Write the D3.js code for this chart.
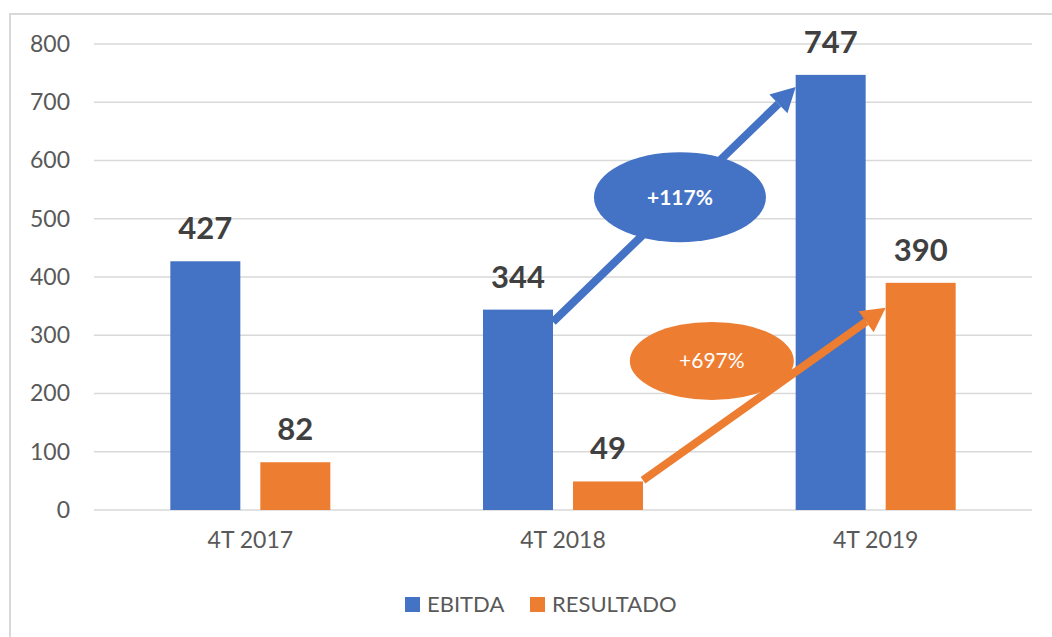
<!DOCTYPE html>
<html>
<head>
<meta charset="utf-8">
<script src="https://cdn.jsdelivr.net/npm/d3@7"></script>
<style>
  body { margin: 0; background: #fff; }
  text { font-family: Lato, "Open Sans", sans-serif; }
</style>
</head>
<body>
<div id="chart"></div>
<script>
// datos del gráfico
const categories = ["4T 2017", "4T 2018", "4T 2019"];
const series = ["EBITDA", "RESULTADO"];
const ebitda = [427, 344, 747];
const resultado = [82, 49, 390];
const yTicks = [0, 100, 200, 300, 400, 500, 600, 700, 800];

// flechas de variación (desde / hasta, en valores del gráfico)
const arrowFrom = [["4T 2018", "EBITDA", 323], ["4T 2018", "RESULTADO", 51]];
const arrowTo = [["4T 2019", "EBITDA", 726], ["4T 2019", "RESULTADO", 347]];
const changeLabels = ["+117%", "+697%"];
const labelPos = [[1.874, 537], [1.976, 256]]; // posición de la elipse (índice de categoría, valor)

const colors = { EBITDA: "#4472C4", RESULTADO: "#ED7D31" };

const width = 1052, height = 637;
const margin = { top: 44, right: 20, bottom: 127, left: 94 };

const svg = d3.select("#chart").append("svg")
    .attr("width", width)
    .attr("height", height);

// marco
svg.append("path")
    .attr("d", `M10,${height} L10,14 L${width},14`)
    .attr("fill", "none")
    .attr("stroke", "#d9d9d9")
    .attr("stroke-width", 2);

const x0 = d3.scaleBand()
    .domain(categories)
    .range([margin.left, 1032])
    .padding(0);

const x1 = d3.scaleBand()
    .domain(series)
    .range([x0.bandwidth() / 2 - 80, x0.bandwidth() / 2 + 80])
    .paddingInner(2 / 9);

const y = d3.scaleLinear()
    .domain([0, 800])
    .range([510, margin.top]);

// líneas de cuadrícula
svg.append("g")
    .selectAll("line")
    .data(yTicks)
    .enter().append("line")
    .attr("x1", margin.left)
    .attr("x2", 1032)
    .attr("y1", d => y(d))
    .attr("y2", d => y(d))
    .attr("stroke", "#d9d9d9")
    .attr("stroke-width", 1.5);

// eje y
const yAxis = svg.append("g")
    .attr("transform", "translate(70,0)")
    .call(d3.axisLeft(y).tickValues(yTicks).tickSize(0).tickPadding(0));
yAxis.select(".domain").remove();
yAxis.selectAll("text")
    .attr("fill", "#595959")
    .style("font-size", "23px")
    .style("font-family", "Lato, sans-serif");

// eje x
const xAxis = svg.append("g")
    .attr("transform", "translate(0,532)")
    .call(d3.axisBottom(x0).tickSize(0).tickPadding(0));
xAxis.select(".domain").remove();
xAxis.selectAll("text")
    .attr("fill", "#595959")
    .style("font-size", "23px")
    .style("font-family", "Lato, sans-serif");

// barras
const rows = categories.map((c, i) => ({ cat: c, EBITDA: ebitda[i], RESULTADO: resultado[i] }));

const groups = svg.selectAll(".group")
    .data(rows)
    .enter().append("g")
    .attr("class", "group")
    .attr("transform", d => `translate(${x0(d.cat)},0)`);

groups.selectAll("rect")
    .data(d => series.map(s => ({ key: s, value: d[s] })))
    .enter().append("rect")
    .attr("x", d => x1(d.key))
    .attr("y", d => y(d.value))
    .attr("width", x1.bandwidth())
    .attr("height", d => y(0) - y(d.value))
    .attr("fill", d => colors[d.key]);

groups.selectAll(".value")
    .data(d => series.map(s => ({ key: s, value: d[s] })))
    .enter().append("text")
    .attr("class", "value")
    .attr("x", d => x1(d.key) + x1.bandwidth() / 2)
    .attr("y", d => y(d.value) - 22)
    .attr("text-anchor", "middle")
    .attr("fill", "#404040")
    .style("font-size", "31px")
    .style("font-weight", "bold")
    .text(d => d.value);

// flechas y elipses
function edgeX(cat, key, side) {
    const left = x0(cat) + x1(key);
    return side === "right" ? left + x1.bandwidth() : left;
}

function drawArrow(i) {
    const key = arrowFrom[i][1];
    const xa = edgeX(arrowFrom[i][0], key, "right");
    const ya = y(arrowFrom[i][2]);
    const xb = edgeX(arrowTo[i][0], key, "left");
    const yb = y(arrowTo[i][2]);
    const ang = Math.atan2(yb - ya, xb - xa);
    const headLen = 24, headW = 13;
    const bx = xb - headLen * Math.cos(ang), by = yb - headLen * Math.sin(ang);
    svg.append("line")
        .attr("x1", xa).attr("y1", ya)
        .attr("x2", bx).attr("y2", by)
        .attr("stroke", colors[key])
        .attr("stroke-width", 8);
    const px = -Math.sin(ang), py = Math.cos(ang);
    svg.append("path")
        .attr("d", `M${xb},${yb} L${bx + px * headW},${by + py * headW} L${bx - px * headW},${by - py * headW} Z`)
        .attr("fill", colors[key]);
}

function drawLabel(i, rx, ry, weight) {
    const key = series[i];
    const cx = margin.left + labelPos[i][0] * x0.step();
    const cy = y(labelPos[i][1]);
    svg.append("ellipse")
        .attr("cx", cx).attr("cy", cy)
        .attr("rx", rx).attr("ry", ry)
        .attr("fill", colors[key]);
    svg.append("text")
        .attr("x", cx).attr("y", cy)
        .attr("dy", "0.35em")
        .attr("text-anchor", "middle")
        .attr("fill", "#fff")
        .style("font-size", "21px")
        .style("font-weight", weight)
        .text(changeLabels[i]);
}

drawArrow(0);
drawLabel(0, 86, 45, "bold");
drawLabel(1, 82, 39, "normal");
drawArrow(1);

// leyenda
const legend = svg.append("g").attr("transform", "translate(405,604)");
const legendX = [0, 125];
series.forEach((s, i) => {
    legend.append("rect")
        .attr("x", legendX[i])
        .attr("y", -7)
        .attr("width", 15)
        .attr("height", 15)
        .attr("fill", colors[s]);
    legend.append("text")
        .attr("x", legendX[i] + 22)
        .attr("y", 0)
        .attr("dy", "0.35em")
        .attr("fill", "#595959")
        .style("font-size", "22px")
        .text(s);
});
</script>
</body>
</html>
